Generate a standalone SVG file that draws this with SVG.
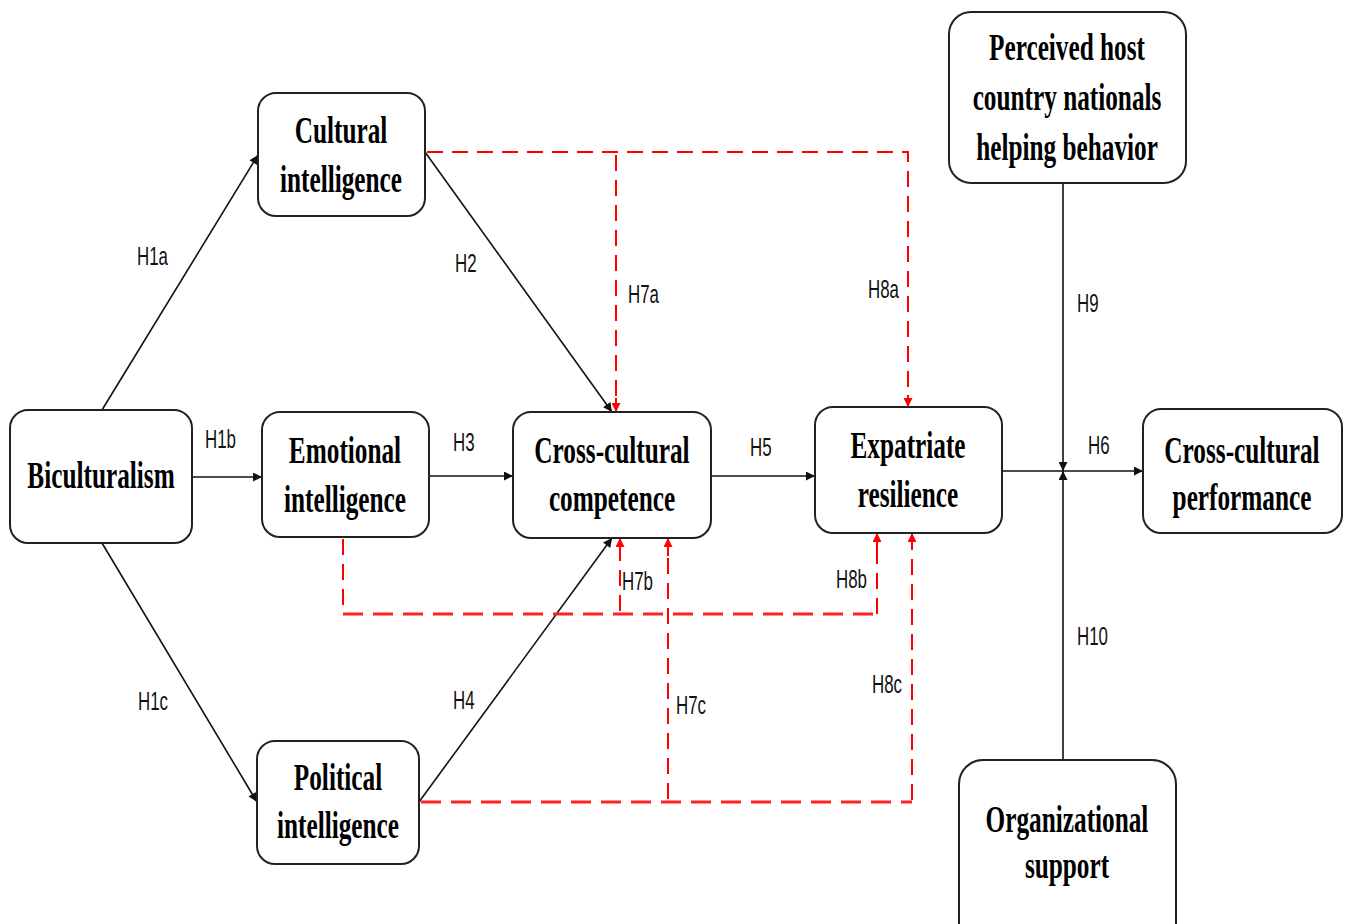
<svg xmlns="http://www.w3.org/2000/svg" width="1347" height="924" viewBox="0 0 1347 924">
<style>
.box{fill:#fff;stroke:#222;stroke-width:2}
.t{font-family:"Liberation Serif","Times New Roman",serif;font-weight:bold;font-size:38px;fill:#000;text-anchor:middle}
.l{font-family:"Liberation Sans",Arial,sans-serif;font-size:26px;fill:#111}
.c{fill:none;stroke:#111;stroke-width:1.6}
.r{fill:none;stroke:#ff0000;stroke-width:2;stroke-dasharray:16 9}
.rb{fill:none;stroke:#ff2020;stroke-width:3;stroke-dasharray:20 10}
.rs{fill:none;stroke:#ff0000;stroke-width:2}
</style>
<defs>
<marker id="ab" viewBox="0 0 10 10" refX="10" refY="5" markerWidth="10" markerHeight="9" markerUnits="userSpaceOnUse" orient="auto"><path d="M0,0 L10,5 L0,10 z" fill="#111"/></marker>
<marker id="ar" viewBox="0 0 10 10" refX="10" refY="5" markerWidth="11" markerHeight="9" markerUnits="userSpaceOnUse" orient="auto"><path d="M0,0 L10,5 L0,10 z" fill="#ff0000"/></marker>
</defs>
<rect width="1347" height="924" fill="#fff"/>
<g id="connectors">
<line class="c" x1="102" y1="410" x2="258" y2="155" marker-end="url(#ab)"/>
<line class="c" x1="192" y1="477" x2="262" y2="477" marker-end="url(#ab)" stroke-width="2.5"/>
<line class="c" x1="102" y1="543" x2="257" y2="802" marker-end="url(#ab)"/>
<line class="c" x1="425" y1="152" x2="612" y2="412" marker-end="url(#ab)"/>
<line class="c" x1="429" y1="476" x2="513" y2="476" marker-end="url(#ab)"/>
<line class="c" x1="419" y1="802" x2="612" y2="538" marker-end="url(#ab)"/>
<line class="c" x1="711" y1="476" x2="815" y2="476" marker-end="url(#ab)"/>
<line class="c" x1="1002" y1="471" x2="1143" y2="471" marker-end="url(#ab)" stroke-width="2"/>
<line class="c" x1="1063" y1="183" x2="1063" y2="471" marker-end="url(#ab)"/>
<line class="c" x1="1063" y1="760" x2="1063" y2="471" marker-end="url(#ab)"/>
<path class="r" d="M427,152 H908 V397"/>
<line class="rs" x1="908" y1="395" x2="908" y2="407" marker-end="url(#ar)"/>
<path class="r" d="M616,155 V400"/>
<line class="rs" x1="616" y1="398" x2="616" y2="412" marker-end="url(#ar)"/>
<path class="r" d="M343,539 V614"/>
<path class="rb" d="M343,614 H877"/>
<path class="r" d="M877,614 V548"/>
<line class="rs" x1="877" y1="550" x2="877" y2="533" marker-end="url(#ar)"/>
<path class="r" d="M620,611 V552"/>
<line class="rs" x1="620" y1="556" x2="620" y2="538" marker-end="url(#ar)"/>
<path class="rb" d="M421,802 H912"/>
<path class="r" d="M912,800 V548" stroke-dasharray="26 10"/>
<line class="rs" x1="912" y1="550" x2="912" y2="533" marker-end="url(#ar)"/>
<path class="r" d="M668,799 V552" stroke-dasharray="26 10"/>
<line class="rs" x1="668" y1="556" x2="668" y2="538" marker-end="url(#ar)"/>
</g>
<g id="labels">
<text class="l" transform="translate(137 265) scale(0.65 1)">H1a</text>
<text class="l" transform="translate(205 448) scale(0.65 1)">H1b</text>
<text class="l" transform="translate(138 710) scale(0.65 1)">H1c</text>
<text class="l" transform="translate(455 272) scale(0.65 1)">H2</text>
<text class="l" transform="translate(453 451) scale(0.65 1)">H3</text>
<text class="l" transform="translate(453 709) scale(0.65 1)">H4</text>
<text class="l" transform="translate(750 456) scale(0.65 1)">H5</text>
<text class="l" transform="translate(1088 454) scale(0.65 1)">H6</text>
<text class="l" transform="translate(628 303) scale(0.65 1)">H7a</text>
<text class="l" transform="translate(622 590) scale(0.65 1)">H7b</text>
<text class="l" transform="translate(676 714) scale(0.65 1)">H7c</text>
<text class="l" transform="translate(868 298) scale(0.65 1)">H8a</text>
<text class="l" transform="translate(836 588) scale(0.65 1)">H8b</text>
<text class="l" transform="translate(872 693) scale(0.65 1)">H8c</text>
<text class="l" transform="translate(1077 312) scale(0.65 1)">H9</text>
<text class="l" transform="translate(1077 645) scale(0.65 1)">H10</text>
</g>
<g id="biculturalism">
<rect class="box" x="10" y="410" width="182" height="133" rx="18"/>
<text class="t" transform="translate(101 488) scale(0.665 1)">Biculturalism</text>
</g>
<g id="cultural-intelligence">
<rect class="box" x="258" y="93" width="167" height="123" rx="18"/>
<text class="t" transform="translate(341 143) scale(0.665 1)">Cultural</text>
<text class="t" transform="translate(341 192) scale(0.665 1)">intelligence</text>
</g>
<g id="emotional-intelligence">
<rect class="box" x="262" y="412" width="167" height="125" rx="18"/>
<text class="t" transform="translate(345 463) scale(0.665 1)">Emotional</text>
<text class="t" transform="translate(345 512) scale(0.665 1)">intelligence</text>
</g>
<g id="political-intelligence">
<rect class="box" x="257" y="741" width="162" height="123" rx="18"/>
<text class="t" transform="translate(338 790) scale(0.665 1)">Political</text>
<text class="t" transform="translate(338 838) scale(0.665 1)">intelligence</text>
</g>
<g id="cross-cultural-competence">
<rect class="box" x="513" y="412" width="198" height="126" rx="18"/>
<text class="t" transform="translate(612 463) scale(0.665 1)">Cross-cultural</text>
<text class="t" transform="translate(612 511) scale(0.665 1)">competence</text>
</g>
<g id="expatriate-resilience">
<rect class="box" x="815" y="407" width="187" height="126" rx="18"/>
<text class="t" transform="translate(908 458) scale(0.665 1)">Expatriate</text>
<text class="t" transform="translate(908 507) scale(0.665 1)">resilience</text>
</g>
<g id="perceived-hcn-helping">
<rect class="box" x="949" y="12" width="237" height="171" rx="22"/>
<text class="t" transform="translate(1067 60) scale(0.665 1)">Perceived host</text>
<text class="t" transform="translate(1067 110) scale(0.665 1)">country nationals</text>
<text class="t" transform="translate(1067 160) scale(0.665 1)">helping behavior</text>
</g>
<g id="cross-cultural-performance">
<rect class="box" x="1143" y="409" width="199" height="124" rx="18"/>
<text class="t" transform="translate(1242 463) scale(0.665 1)">Cross-cultural</text>
<text class="t" transform="translate(1242 510) scale(0.665 1)">performance</text>
</g>
<g id="organizational-support">
<rect class="box" x="959" y="760" width="217" height="190" rx="24"/>
<text class="t" transform="translate(1067 832) scale(0.665 1)">Organizational</text>
<text class="t" transform="translate(1067 878) scale(0.665 1)">support</text>
</g>
</svg>
